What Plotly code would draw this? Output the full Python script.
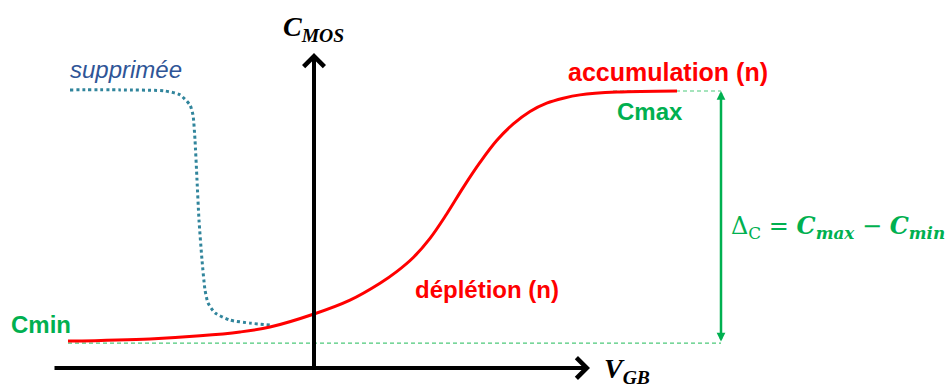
import plotly.graph_objects as go

# ---- data (arbitrary units: V_GB horizontally, C_MOS vertically, C_max = 1) ----
red_v = [-4.92, -3.28, -2.28, -1.48, -0.88, 0.0, 0.72, 1.32, 1.654, 1.986, 2.32, 2.654,
         2.986, 3.32, 3.654, 3.986, 4.32, 4.654, 4.986, 5.32, 6.06, 7.26]
red_c = [0.097, 0.105, 0.116, 0.130, 0.148, 0.195, 0.245, 0.306, 0.348, 0.399, 0.468, 0.556,
         0.652, 0.742, 0.821, 0.881, 0.926, 0.956, 0.974, 0.986, 0.996, 1.0]

sup_v = [-4.88, -3.88, -2.98, -2.68, -2.48, -2.42, -2.38, -2.34, -2.30, -2.24, -2.18,
         -2.12, -1.98, -1.68, -1.28, -0.88]
sup_c = [1.004, 1.004, 1.0, 0.986, 0.949, 0.913, 0.823, 0.679, 0.534, 0.390, 0.282,
         0.235, 0.199, 0.173, 0.162, 0.155]

C_MIN = 0.09
C_MAX = 1.0
V_START = -4.92
V_DELTA = 8.14
V_CMAX_LINE = 5.98

X_AXIS_EXTENT = [-5.22, 5.52]
Y_AXIS_TOP = 1.137

X_RANGE = [-6.28, 12.66]
Y_RANGE = [-0.0614, 1.3285]

RED = "#FF0000"
GREEN = "#00B050"
BLUE_DOT = "#31859C"
BLUE_TXT = "#2F5597"

fig = go.Figure()

# dashed green reference lines
fig.add_trace(go.Scatter(x=[V_START, V_DELTA], y=[C_MIN, C_MIN], mode="lines",
                         line=dict(color="#4CC97A", width=1.2, dash="4px,3px"),
                         hoverinfo="skip"))
fig.add_trace(go.Scatter(x=[V_CMAX_LINE, V_DELTA], y=[C_MAX, C_MAX], mode="lines",
                         line=dict(color="#4CC97A", width=1.2, dash="4px,3px"),
                         hoverinfo="skip"))

# suppressed curve (dotted)
fig.add_trace(go.Scatter(x=sup_v, y=sup_c, mode="lines",
                         line=dict(color=BLUE_DOT, width=3, dash="3px,3px", shape="spline",
                                   smoothing=0.6),
                         hoverinfo="skip"))

# main C-V curve
fig.add_trace(go.Scatter(x=red_v, y=red_c, mode="lines",
                         line=dict(color=RED, width=3, shape="spline", smoothing=1.0),
                         hoverinfo="skip"))

annotations = []
# axes as arrows
annotations.append(dict(x=X_AXIS_EXTENT[1], y=0, ax=X_AXIS_EXTENT[0], ay=0,
                        xref="x", yref="y", axref="x", ayref="y", text="",
                        showarrow=True, arrowhead=4, arrowsize=1, arrowwidth=4,
                        arrowcolor="black"))
annotations.append(dict(x=0, y=Y_AXIS_TOP, ax=0, ay=0,
                        xref="x", yref="y", axref="x", ayref="y", text="",
                        showarrow=True, arrowhead=4, arrowsize=1, arrowwidth=4,
                        arrowcolor="black"))
# delta-C double arrow
annotations.append(dict(x=V_DELTA, y=C_MAX, ax=V_DELTA, ay=C_MIN,
                        xref="x", yref="y", axref="x", ayref="y", text="",
                        showarrow=True, arrowhead=2, startarrowhead=2, arrowside="end+start",
                        arrowsize=0.7, startarrowsize=0.7, arrowwidth=2.5,
                        arrowcolor=GREEN))

sans = "Liberation Sans, Arial, sans-serif"
serif = "Liberation Serif, DejaVu Serif, serif"
wide_serif = "DejaVu Serif, serif"

def label(x, y, text, color, size, family=sans, xanchor="center"):
    annotations.append(dict(x=x, y=y, xref="x", yref="y", text=text, showarrow=False,
                            font=dict(color=color, size=size, family=family),
                            xanchor=xanchor, yanchor="middle"))

label(-3.76, 1.076, "<i>supprimée</i>", BLUE_TXT, 24)
label(7.08, 1.069, "<b>accumulation (n)</b>", RED, 25)
label(6.72, 0.925, "<b>Cmax</b>", GREEN, 24)
label(3.46, 0.284, "<b>déplétion (n)</b>", RED, 24)
label(-5.46, 0.156, "<b>Cmin</b>", GREEN, 24)
label(10.48, 0.51,
      "Δ<sub>C</sub> = <b><i>C</i></b><sub><b><i>max</i></b></sub> − "
      "<b><i>C</i></b><sub><b><i>min</i></b></sub>", GREEN, 24, wide_serif)
label(-0.02, 1.225, "<b><i>C</i></b><sub><b><i>MOS</i></b></sub>", "black", 28, serif)
label(6.26, -0.01, "<b><i>V</i></b><sub><b><i>GB</i></b></sub>", "black", 28, serif)

fig.update_layout(
    width=947, height=385,
    margin=dict(l=0, r=0, t=0, b=0),
    paper_bgcolor="white", plot_bgcolor="white",
    showlegend=False,
    xaxis=dict(range=X_RANGE, visible=False, fixedrange=True),
    yaxis=dict(range=Y_RANGE, visible=False, fixedrange=True),
    annotations=annotations,
)

fig.write_html("out.html", config={"displayModeBar": False},
               post_script="document.body.style.margin='0';document.body.style.overflow='hidden';")
